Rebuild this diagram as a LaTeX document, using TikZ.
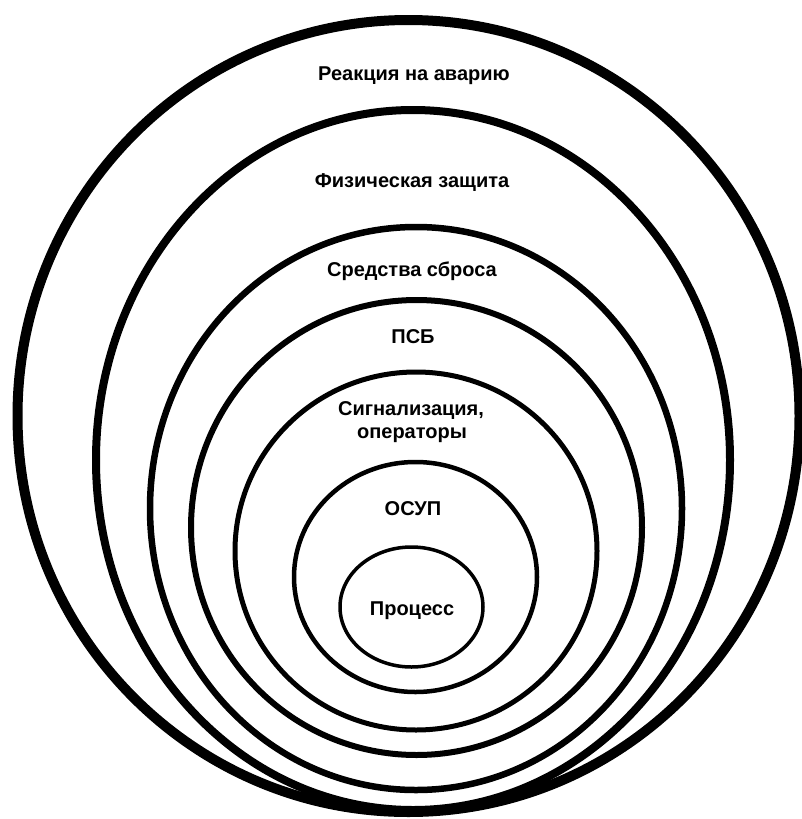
\documentclass[tikz,border=0pt]{standalone}
\usepackage{fontspec}
\setmainfont{Liberation Sans}
\begin{document}
\begin{tikzpicture}[x=1pt,y=-1pt,
  ring/.style={draw=black},
  lbl/.style={font=\fontsize{20}{23}\selectfont\bfseries, inner sep=0pt, anchor=base}]
\useasboundingbox (0,0) rectangle (802,819);
\clip (0,0) rectangle (802,819);
% rings, outermost first
\draw[ring, line width=10pt]  (408.5,416) ellipse [x radius=391, y radius=396];
\draw[ring, line width=8pt]   (413,460)   ellipse [x radius=317, y radius=350];
\draw[ring, line width=6.5pt] (416,508.5) ellipse [x radius=266, y radius=281.5];
\draw[ring, line width=6pt]   (416.5,527.5) ellipse [x radius=225.5, y radius=227.5];
\draw[ring, line width=5pt]   (416,551)   ellipse [x radius=181, y radius=179];
\draw[ring, line width=4.5pt] (415.5,577) ellipse [x radius=121.5, y radius=115];
\draw[ring, line width=3.5pt] (411.5,607) ellipse [x radius=71.5, y radius=60];
% labels
\node[lbl] (t1) at (414,80)  {Реакция на аварию};
\node[lbl] (t2) at (412,187) {Физическая защита};
\node[lbl] (t3) at (412,276) {Средства сброса};
\node[lbl] (t4) at (413,343) {ПСБ};
\node[lbl] (t5a) at (411,415) {Сигнализация,};
\node[lbl] (t5b) at (412,438) {операторы};
\node[lbl] (t6) at (413,515) {ОСУП};
\node[lbl] (t7) at (412,615) {Процесс};
\end{tikzpicture}
\end{document}
